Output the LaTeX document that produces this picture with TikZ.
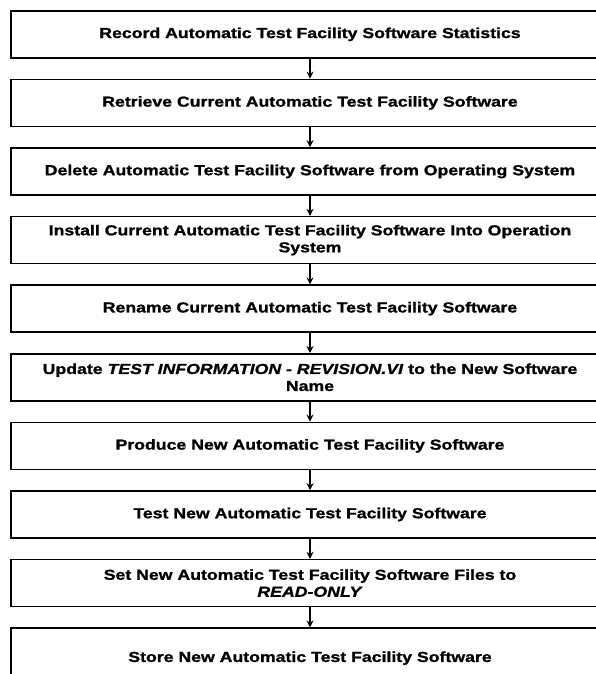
\documentclass[tikz,border=0pt]{standalone}
\usepackage{fontspec}
\setmainfont{Liberation Sans}[FakeStretch=1.22, FakeBold=1.2]
\usepackage{tikz}
\usetikzlibrary{arrows, arrows.meta, positioning}

\begin{document}
\begin{tikzpicture}[->,>={Stealth[length=7pt,width=7pt]},node distance=20pt,
                    line width=1.1pt, x=1pt, y=1pt]

  \clip (0,0) rectangle (596,-674);
  \tikzstyle{stage} = [draw, line width=1.6pt, rectangle, minimum width=598pt,
                       minimum height=47pt, inner sep=1pt, align=center,
                       font=\fontsize{14.5}{17}\selectfont\bfseries]
  \node[stage, anchor=north] (A) at (310,-10) {Record Automatic Test Facility Software Statistics};
  \node[stage]         (B) [below=of A]      {Retrieve Current Automatic Test Facility Software};
  \node[stage]         (C) [below=of B]      {Delete Automatic Test Facility Software from Operating System};
  \node[stage]         (D) [below=of C]      {Install Current Automatic Test Facility Software Into Operation\\System};
  \node[stage]         (E) [below=of D]      {Rename Current Automatic Test Facility Software};
  \node[stage]         (F) [below=of E]      {Update \textit{TEST INFORMATION - REVISION.VI} to the New Software\\Name};
  \node[stage]         (G) [below=of F]      {Produce New Automatic Test Facility Software};
  \node[stage]         (H) [below=of G]      {Test New Automatic Test Facility Software};
  \node[stage]         (I) [below=of H]      {Set New Automatic Test Facility Software Files to\\\textit{READ-ONLY}};
  \node[stage, minimum height=60pt] (J) [below=of I] {Store New Automatic Test Facility Software};

  \path (A) edge (B)
        (B) edge (C)
        (C) edge (D)
        (D) edge (E)
        (E) edge (F)
        (F) edge (G)
        (G) edge (H)
        (H) edge (I)
        (I) edge (J);

\end{tikzpicture}
\end{document}
